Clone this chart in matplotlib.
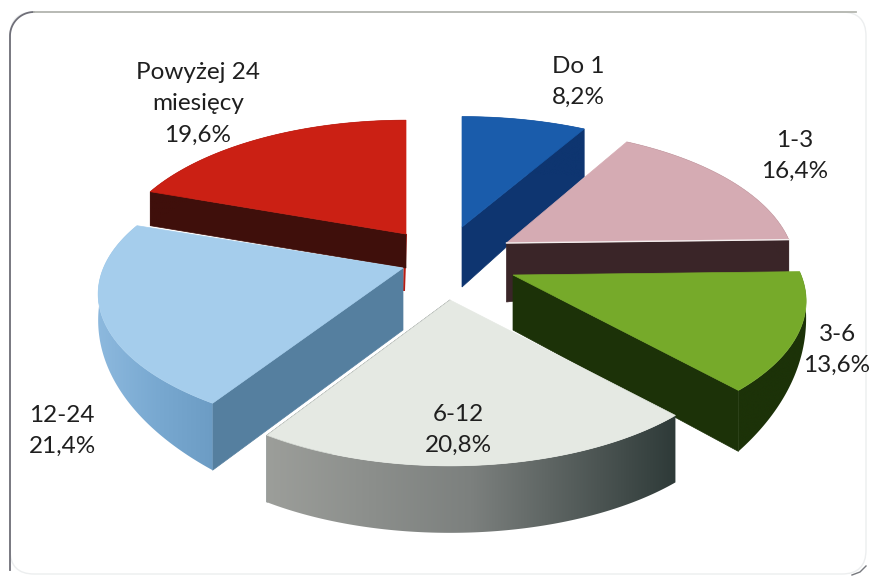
import numpy as np
import matplotlib
matplotlib.use("Agg")
import matplotlib.pyplot as plt
from matplotlib.patches import FancyBboxPatch, Polygon
from matplotlib.colors import LinearSegmentedColormap

# dane
categories = ["Do 1", "1-3", "3-6", "6-12", "12-24", "Powyżej 24\nmiesięcy"]
shares = [8.2, 16.4, 13.6, 20.8, 21.4, 19.6]

# wyglad kawalkow (piksele obrazka)
apex_x = [462, 506.5, 513, 450, 403, 406]
apex_y = [227, 243, 275, 300, 268, 234]
size_x = [1.0, 0.985, 1.0, 1.0, 1.04, 1.0]
size_y = [0.97, 1.0, 1.0, 1.0, 1.0, 1.0]
top_colors = ["#1a5cab", "#d5abb3", "#76aa2a", "#e5e9e3", "#a5cdec", "#cb2014"]
cut_colors = ["#0e3570", "#3a2528", "#1c3208", "#2e3a38", "#557f9f", "#3f0f0b"]
# kolory boku od lewej do prawej
rim_colors = [["#0e3570"], ["#3a2528"], ["#1c3208"], ["#9c9e9a", "#7c807e", "#2e3a38"],
              ["#8db9de", "#79a9d1", "#6c9cc4"], ["#3f0f0b"]]
# ktora sciana przekroju jest widoczna: 0 - poczatek, 1 - koniec
cut_side = [1, 1, 1, 1, 0, 0]
depth_apex = [60, 59, 55, 66, 62, 34]
depth_start = [60, 30, 3, 67, 67, 34]
depth_end = [48, 32, 61, 67, 0, 34]
draw_order = [5, 0, 1, 4, 2, 3]

label_x = [578, 795, 837, 458, 62, 198]
label_y = [82, 156, 350, 430, 431, 104]

R_X = 288
R_Y = 135
PERSP = 0.186


def rim(theta):
    # punkt na obwodzie wzgledem wierzcholka, z perspektywa
    s = 1 / (1 + PERSP * np.cos(theta))
    return R_X * np.sin(theta) * s, -R_Y * np.cos(theta) * s


fig = plt.figure(figsize=(8.69, 5.77), dpi=100, facecolor="white")
ax = fig.add_axes([0, 0, 1, 1])
ax.set_xlim(0, 869)
ax.set_ylim(577, 0)
ax.axis("off")

# ramka: lewa i gorna wyrazna, reszta prawie znika
ax.add_patch(FancyBboxPatch((10, 12), 856, 562, boxstyle="round,pad=0,rounding_size=24",
                            fc="white", ec="#eceeef", lw=1.0, zorder=0))
arc = np.linspace(np.pi, 1.5 * np.pi, 30)
ax.plot(np.r_[10, 10, 34 + 24 * np.cos(arc)], np.r_[570, 36, 36 + 24 * np.sin(arc)],
        color="#6f6f78", lw=1.3, zorder=0.5)
ax.plot([34, 856], [12, 12], color="#b4b6b0", lw=1.3, zorder=0.5)
ax.plot([852, 860, 866], [575, 572, 566], color="#77797e", lw=1.0, zorder=0.5)

edges = np.concatenate([[0], np.cumsum(shares)]) / 100 * 2 * np.pi

z = 1
for i in draw_order:
    a, b = edges[i], edges[i + 1]
    t = np.linspace(a, b, 120)
    rx, ry = rim(t)
    px = apex_x[i] + rx * size_x[i]
    py = apex_y[i] + ry * size_y[i]
    depth = np.linspace(depth_start[i], depth_end[i], len(t))

    # sciana przekroju
    k = -1 if cut_side[i] == 1 else 0
    cut = [(apex_x[i], apex_y[i]), (px[k], py[k]),
           (px[k], py[k] + depth[k]), (apex_x[i], apex_y[i] + depth_apex[i])]
    if i == 5:
        # cienki czerwony pasek przy prawej krawedzi
        ax.fill([apex_x[i] - 2, apex_x[i] + 1, apex_x[i] - 1, apex_x[i] - 3],
                [apex_y[i], apex_y[i], apex_y[i] + 57, apex_y[i] + 57], color="#b81c12", lw=0, zorder=z)
    ax.add_patch(Polygon(cut, closed=True, fc=cut_colors[i], ec=cut_colors[i], lw=0.5, zorder=z))

    # sciana boczna po luku, gradient w poziomie przyciety do ksztaltu
    side = Polygon(np.column_stack([np.r_[px, px[::-1]], np.r_[py, (py + depth)[::-1]]]),
                   closed=True, fc="none", ec="none", transform=ax.transData)
    ax.add_patch(side)
    cols = rim_colors[i] if len(rim_colors[i]) > 1 else rim_colors[i] * 2
    cmap = LinearSegmentedColormap.from_list("s%d" % i, cols)
    im = ax.imshow(np.linspace(0, 1, 256).reshape(1, -1), cmap=cmap, aspect="auto",
                   extent=(px.min() - 1, px.max() + 1, (py + depth).max() + 1, py.min() - 1),
                   zorder=z + 0.1, interpolation="bilinear")
    im.set_clip_path(side)

    # wierzch
    xy = np.column_stack([np.r_[apex_x[i], px], np.r_[apex_y[i], py]])
    ax.add_patch(Polygon(xy, closed=True, fc=top_colors[i], ec=top_colors[i], lw=0.5, zorder=z + 0.2))
    if i == 1:
        # jasna krawedz nad ciemnym bokiem
        ax.plot([apex_x[i], px[-1]], [apex_y[i], py[-1]], color="#f4eeee", lw=1.0, zorder=z + 0.3)
    z += 1

ax.set_xlim(0, 869)
ax.set_ylim(577, 0)

for name, val, x, y in zip(categories, shares, label_x, label_y):
    txt = "%s\n%s%%" % (name, str(val).replace(".", ","))
    ax.text(x, y, txt, ha="center", va="center", family="Lato", fontsize=17.5,
            linespacing=1.62, color="#1f1f1f", zorder=20)

fig.savefig("out.png", dpi=100, facecolor=fig.get_facecolor())
